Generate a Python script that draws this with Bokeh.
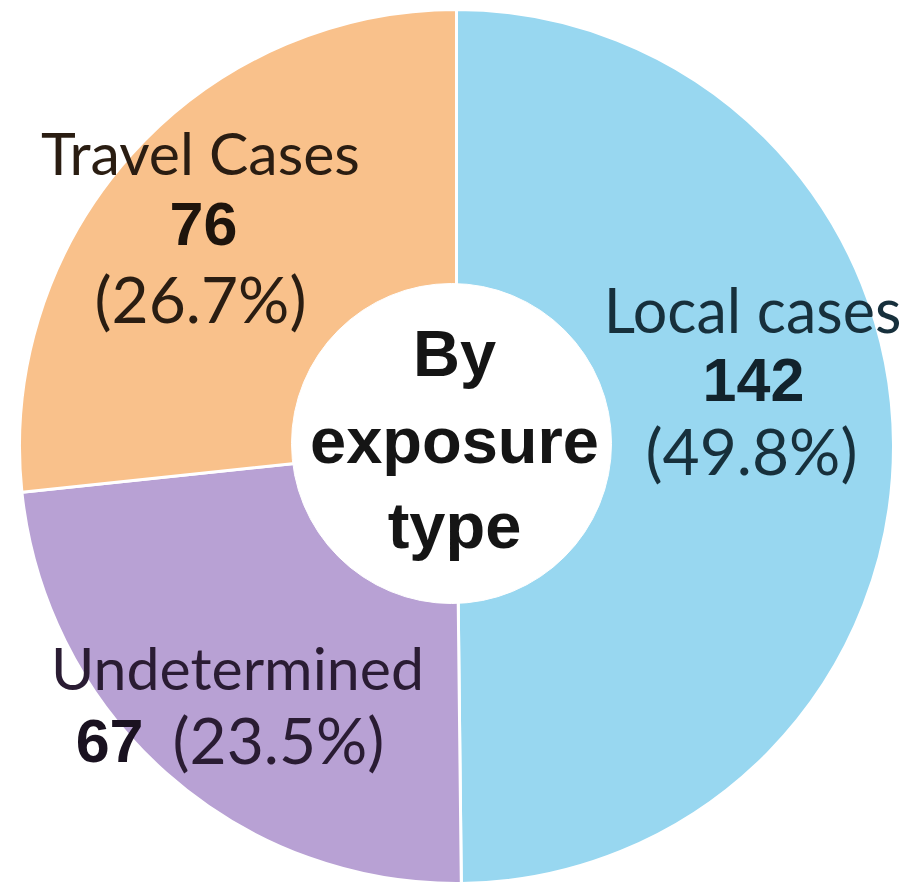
import math
from bokeh.plotting import figure
from bokeh.models import Range1d, ColumnDataSource
from bokeh.core.properties import value
from bokeh.embed import file_html
from bokeh.resources import INLINE

# ---- data ----
categories = ["Local cases", "Undetermined", "Travel Cases"]
counts = [142, 67, 76]
percents = [49.8, 23.5, 26.7]
colors = ["#98d7f0", "#b8a1d4", "#f9c18b"]
center_title = ["By", "exposure", "type"]

W, H = 910, 888
p = figure(width=W, height=H, output_backend="svg", toolbar_location=None,
           x_range=Range1d(0, W), y_range=Range1d(0, H), min_border=0)
p.axis.visible = False
p.grid.visible = False
p.outline_line_color = None
p.background_fill_color = "white"
p.border_fill_color = "white"

# pie geometry (px)
cx, cy, R = 456, H - 446, 437
total = sum(counts)
starts, ends = [], []
cum = 0
for c in counts:
    a0 = math.pi / 2 - 2 * math.pi * cum / total
    cum += c
    a1 = math.pi / 2 - 2 * math.pi * cum / total
    starts.append(a1)
    ends.append(a0)

src = ColumnDataSource(dict(cat=categories, start=starts, end=ends, color=colors))
p.wedge(x=cx, y=cy, radius=R, start_angle="start", end_angle="end",
        fill_color="color", line_color="white", line_width=3, source=src)

# inner white hole
p.scatter(x=[451], y=[H - 443], size=320, fill_color="white", line_color="white", marker="circle")

NARROW = "Lato"
BOLD = "Liberation Sans"

def txt(x, y, s, font, size, style="normal", color="#1e1e1e", align="center"):
    yb = y - 0.385 * size  # bokeh places the alphabetic baseline lower than requested
    p.text(x=[x], y=[H - yb], text=[s], text_font=value(font), text_font_size=f"{size}px",
           text_font_style=style, text_color=color, text_align=align,
           text_baseline="alphabetic")

# Local cases
txt(752, 332, categories[0], NARROW, 61, color="#17303c")
txt(753, 403, str(counts[0]), BOLD, 61, "bold", color="#12232c")
txt(751, 475, f"({percents[0]}%)", NARROW, 64, color="#17303c")

# Travel cases
txt(200, 175, categories[2], NARROW, 59, color="#2a1d12")
txt(203, 247, str(counts[2]), BOLD, 61, "bold", color="#1e140c")
txt(200, 323, f"({percents[2]}%)", NARROW, 64, color="#2a1d12")

# Undetermined
txt(237, 690, categories[1], NARROW, 59, color="#2a1c33")
txt(143, 764, str(counts[1]), BOLD, 61, "bold", color="#1a1220", align="right")
txt(172, 764, f"({percents[1]}%)", NARROW, 64, color="#2a1c33", align="left")

# center title
for s, yb in zip(center_title, [378, 465, 550]):
    txt(454, yb, s, BOLD, 65, "bold", color="#151515")

open("out.html", "w").write(file_html(p, INLINE))
